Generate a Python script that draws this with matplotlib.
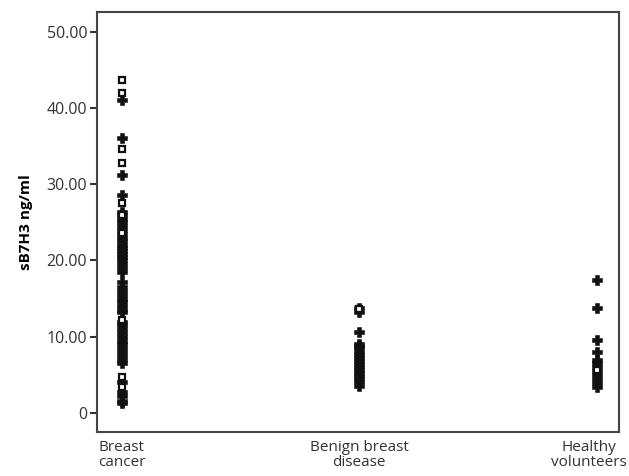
import matplotlib
matplotlib.use("Agg")
import matplotlib.pyplot as plt
from matplotlib.transforms import ScaledTranslation

# group labels and x positions
groups = ["Breast\ncancer", "Benign breast\ndisease", "Healthy\nvolunteers"]

# sB7H3 values (ng/ml); squares and pluses as in the original
cancer_sq = [43.7, 42.0, 34.6, 32.8, 27.6, 25.9, 23.6, 12.2, 4.7, 3.4]
cancer_plus = [41.1, 36.1, 31.2, 28.6, 26.4, 26.0, 25.5, 25.0, 24.5, 24.0, 23.5,
               23.0, 22.5, 22.0, 21.6, 21.2, 20.8, 20.4, 20.0, 19.5, 19.0, 18.5,
               17.2, 16.5, 16.0, 15.5, 15.0, 14.5, 14.0, 13.5, 13.2, 11.9, 11.5,
               11.0, 10.5, 10.0, 9.5, 9.0, 8.5, 8.0, 7.5, 7.0, 6.5, 4.0, 2.8,
               2.2, 1.6, 1.3]
benign_sq = [13.6]
benign_plus = [13.8, 13.3, 10.6, 9.0, 8.8, 8.5, 8.0, 7.6, 7.2, 6.8, 6.4, 6.0,
               5.6, 5.2, 4.8, 4.4, 4.0, 3.6]
healthy_sq = [5.6]
healthy_plus = [17.5, 13.8, 9.6, 8.0, 7.0, 6.5, 6.0, 5.5, 5.0, 4.4, 3.9, 3.4]

yticks = [0, 10, 20, 30, 40, 50]
yticklabels = ["0", "10.00", "20.00", "30.00", "40.00", "50.00"]

plt.rcParams["font.family"] = ["Open Sans", "DejaVu Sans"]

fig = plt.figure(figsize=(6.29, 4.76), dpi=100)
ax = fig.add_axes([0.154, 0.0924, 0.830, 0.8826])

plus_sets = [cancer_plus, benign_plus, healthy_plus]
sq_sets = [cancer_sq, benign_sq, healthy_sq]
for i in range(len(groups)):
    ax.plot([i] * len(plus_sets[i]), plus_sets[i], ls="none", marker="P",
            ms=6.5, color="#111111", mec="#111111", mew=0.4)
    ax.plot([i] * len(sq_sets[i]), sq_sets[i], ls="none", marker="s",
            ms=5, mfc="white", mec="#111111", mew=1.6)

ax.set_xlim(-0.105, 2.093)
ax.set_ylim(-2.5, 52.6)
ax.set_yticks(yticks)
ax.set_yticklabels(yticklabels, fontsize=11.5, color="#333333")
ax.set_xticks(range(len(groups)))
ax.set_xticklabels(groups, fontsize=11, color="#333333", linespacing=0.95)
ax.tick_params(axis="x", length=0, pad=6)
ax.tick_params(axis="y", length=5, width=1.5, color="#333333", pad=2)
ax.set_ylabel("sB7H3 ng/ml", fontsize=11, fontweight="bold", labelpad=10)

# last label sits against the right edge, as in the reference
last = ax.get_xticklabels()[-1]
last.set_transform(last.get_transform() + ScaledTranslation(-8 / 100, 0, fig.dpi_scale_trans))

for s in ax.spines.values():
    s.set_color("#444444")
    s.set_linewidth(1.5)

fig.savefig("out.png", dpi=100)
